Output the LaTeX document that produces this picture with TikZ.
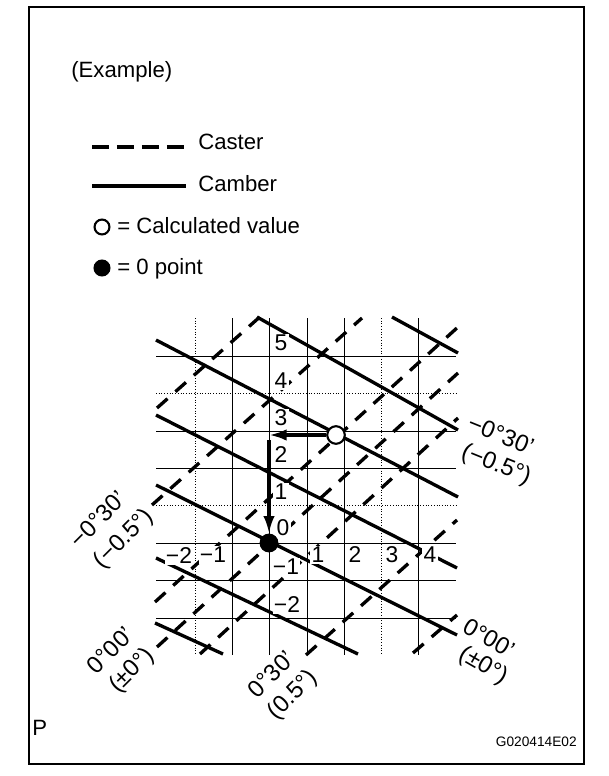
\documentclass[tikz,border=0pt]{standalone}
\usepackage{fontspec}
\setmainfont{Liberation Sans}
\usepackage{tikz}
\usetikzlibrary{arrows.meta}
\newcommand{\drawcamber}{\draw[line width=1.9pt]}
\newcommand{\drawcaster}{\draw[line width=1.9pt,dash pattern=on 8pt off 6pt]}
\newcommand{\drawgridline}{\draw[line width=.55pt]}
\newcommand{\anglelabel}[6]{
  \node[anglenum,rotate=#1] (#2a) at (#3) {#5};
  \node[anglenum,rotate=#1] (#2b) at (#4) {#6};
}
\tikzset{
  legendtext/.style={anchor=west,font=\fontsize{12.6}{15}\selectfont,inner sep=0pt},
  scalenum/.style={font=\fontsize{13}{15}\selectfont,fill=white,inner sep=.8pt},
  anglenum/.style={font=\fontsize{13.6}{16}\selectfont,inner sep=0pt},
  valmark/.style={circle,draw,line width=1.2pt,minimum size=8.5pt,inner sep=0pt},
  movearrow/.style={line width=1.9pt,-{Latex[length=10pt,width=6.5pt]}}
}
\begin{document}
\begin{tikzpicture}[x=0.02cm,y=-0.02cm]
\useasboundingbox (0,0) rectangle (608,776);
\draw[line width=1.3pt] (29,7) rectangle (584,764);
\node[legendtext] (example) at (71,72) {(Example)};
% legend
\draw[line width=1.9pt,dash pattern=on 9.9pt off 4.3pt] (92,147)--(186,147);
\drawcamber (92,186)--(186,186);
\node[legendtext] (caster) at (198,142) {Caster};
\node[legendtext] (camber) at (198,184) {Camber};
\node[valmark,fill=white] (calckey) at (102,227) {};
\node[legendtext] (calctext) at (117,226) {= Calculated value};
\node[valmark,fill=black] (zerokey) at (102,268) {};
\node[legendtext] (zerotext) at (117,269) {= 0 point};
% grid
\foreach \x in {232,269,307,344,418}{
  \drawgridline (\x,318)--(\x,655);
}
\foreach \x in {195,381}{
  \drawgridline[densely dotted] (\x,318)--(\x,655);
}
\foreach \y in {356,431,468,543,580,618}{
  \drawgridline (156,\y)--(456,\y);
}
\foreach \y in {393,505}{
  \drawgridline[densely dotted] (156,\y)--(456,\y);
}
% caster
\drawcaster (157,408)--(262,315);
\drawcaster (152,505)--(362,318);
\drawcaster (155,602)--(458,327);
\drawcaster (157,647)--(458,373);
\drawcaster (200,654)--(458,418);
\drawcaster (306,655)--(457,520);
\drawcaster (413,653)--(457,615);
% camber
\drawcamber (392,317)--(458,353);
\drawcamber (257,317)--(458,430);
\drawcamber (156,340)--(458,497);
\drawcamber (156,415)--(457,568);
\drawcamber (156,485)--(457,635);
\drawcamber (156,558)--(358,654);
\drawcamber (155,623)--(223,654);
% scale
\foreach \n/\y in {5/343,4/381,3/418,2/455,1/492}{
  \node[scalenum] (up\n) at (281,\y) {\n};
}
\node[scalenum] (zero) at (283,528) {0};
\node[scalenum] (dn1) at (286,567) {−1};
\node[scalenum] (dn2) at (287,605) {−2};
\foreach \n/\x in {1/318,2/355,3/392,4/430}{
  \node[scalenum] (rt\n) at (\x,555) {\n};
}
\node[scalenum] (lt2) at (179,556) {−2};
\node[scalenum] (lt1) at (213,555) {−1};
% values
\node[valmark,fill=white,minimum size=10pt] (calc) at (336,435) {};
\node[valmark,fill=black,minimum size=9.5pt] (zeropt) at (269,543) {};
\coordinate (turn) at (269,435);
\coordinate (drop) at (269,440);
\draw[movearrow] (calc)--(turn);
\draw[movearrow] (drop)--(zeropt);
% angle labels
\anglelabel{-22}{rtop}{501,435}{496,465}{−0°30'}{(−0.5°)}
\anglelabel{-30}{rbot}{489,638}{483,666}{0°00'}{(±0°)}
\anglelabel{45}{lftop}{98,519}{124,539}{−0°30'}{(−0.5°)}
\anglelabel{45}{lfbot}{110,650}{132,671}{0°00'}{(±0°)}
\anglelabel{45}{btm}{271,674}{293,695}{0°30'}{(0.5°)}
\node[legendtext] (plabel) at (32,728) {P};
\node[anchor=east,font=\fontsize{7.8}{10}\selectfont,inner sep=0pt] (code) at (577,742) {G020414E02};
\end{tikzpicture}
\end{document}
